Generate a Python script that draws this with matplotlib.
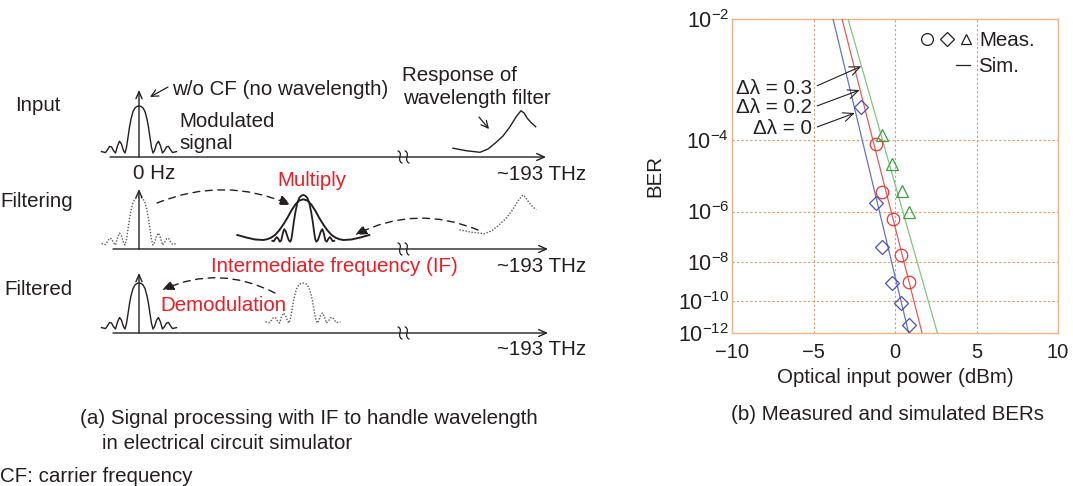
import numpy as np
import matplotlib
matplotlib.use("Agg")
import matplotlib.pyplot as plt
from matplotlib.ticker import NullLocator

plt.rcParams['font.family'] = ['Liberation Sans', 'DejaVu Sans']
plt.rcParams['mathtext.fontset'] = 'custom'
plt.rcParams['mathtext.rm'] = 'Liberation Sans'
plt.rcParams['mathtext.it'] = 'Liberation Sans:italic'
plt.rcParams['axes.unicode_minus'] = True

# ---------------- (b) data: measured and simulated BERs ----------------
meas_d0_x = [-2.11, -1.15, -0.82, -0.20, 0.39, 0.84]
meas_d0_ber = [4.9e-4, 2.0e-6, 4.5e-8, 1.0e-9, 7.9e-11, 3.2e-12]
meas_d2_x = [-1.15, -0.80, -0.12, 0.39, 0.86]
meas_d2_ber = [8.3e-5, 4.2e-6, 5.6e-7, 2.1e-8, 1.1e-9]
meas_d3_x = [-0.78, -0.16, 0.45, 0.86]
meas_d3_ber = [1.3e-4, 2.6e-5, 4.5e-6, 9.3e-7]
sim_ber = [1e-2, 1e-12]
sim_d0_x = [-3.80, 0.84]
sim_d2_x = [-3.25, 1.66]
sim_d3_x = [-2.88, 2.60]
x_ticks = [-10, -5, 0, 5, 10]
y_ticks = [1e-2, 1e-4, 1e-6, 1e-8, 1e-10, 1e-12]
y_tick_labels = [r'$10^{-2}$', r'$10^{-4}$', r'$10^{-6}$', r'$10^{-8}$',
                 r'$10^{-10}$', r'$10^{-12}$']
dl_labels = ['Δλ = 0.3', 'Δλ = 0.2', 'Δλ = 0']
dl_tips_x = [-2.07, -2.17, -2.47]
dl_tips_ber = [2.4e-3, 1.0e-3, 3.8e-4]

# ---------------- (a) schematic shapes (px) ----------------
pulse_dx = [0, 2, 4, 6, 8, 9.5, 11, 12.5, 14, 15.5, 17.5, 19.5, 21.5, 23.5,
            25.5, 27.5, 29.5, 31.5, 33.5, 35.5, 37.5]
pulse_h = [1, .99, .96, .88, .72, .55, .33, .12, 0, .05, .19, .25, .15, 0,
           .05, .13, .14, .07, .01, .02, .03]
prod_dx = [0, 2, 4, 6, 8, 9.5, 11, 12, 13, 14.5, 16, 17.5, 19, 20.5, 22, 23.5,
           25, 26.5, 28, 29.5, 31]
prod_h = [1, .985, .94, .83, .62, .42, .18, .05, 0, .03, .12, .22, .27, .18,
          .03, 0, .06, .1, .06, .01, .02]
gauss_dx = [0, 4, 8, 12, 16, 20, 24, 28, 32, 36, 40, 48, 57, 66]
gauss_h = [1, .97, .87, .72, .54, .38, .24, .13, .06, .02, 0, .012, .061, .123]
filt_dx = [-68, -55, -41, -33, -26, -18, -11, -5, 0, 3, 6.3, 10, 14.7]
filt_dy = [37.5, 40, 41.6, 38.3, 32.6, 25.3, 16, 6.3, 0, 2.3, 7.6, 11.8, 16]
brk_dx = [-1.8, -0.8, 0.4, 0.2, -0.4, -0.2, 0.9, 1.9]
brk_dy = [-6, -5.5, -3.5, -1, 1, 3.5, 5.5, 6]

BLACK = '#231f20'
RED = '#ed1c24'
GRAY = '#5a5a5a'
FS = 14.8

fig = plt.figure(figsize=(10.73, 4.86), dpi=100)

# ---------- left schematic, drawn in pixel coordinates ----------
ax0 = fig.add_axes([0, 0, 1, 1])
ax0.set_xlim(0, 1073)
ax0.set_ylim(486, 0)
ax0.axis('off')


def mirror(dx, h):
    dx = np.asarray(dx, float)
    h = np.asarray(h, float)
    return np.concatenate([-dx[::-1], dx[1:]]), np.concatenate([h[::-1], h[1:]])


def draw_pulse(dx, h, xc, ybase, amp, **kw):
    mx, mh = mirror(dx, h)
    ax0.plot(xc + mx, ybase - amp * mh, solid_joinstyle='round', **kw)


def T(x, y, s, color=BLACK, **kw):
    ax0.text(x, y, s, fontsize=FS, color=color, va='baseline', ha='left', **kw)


def axis_arrow(x0, x1, y):
    ax0.annotate('', xy=(x1, y), xytext=(x0, y),
                 arrowprops=dict(arrowstyle='->,head_length=0.55,head_width=0.25',
                                 lw=1.0, color=BLACK, shrinkA=0, shrinkB=0))
    for bx in (400, 407):
        ax0.plot(bx + np.asarray(brk_dx), y + np.asarray(brk_dy), color=BLACK, lw=0.9)


def vert_arrow(x, y0, y1):
    ax0.annotate('', xy=(x, y1), xytext=(x, y0),
                 arrowprops=dict(arrowstyle='->,head_length=0.5,head_width=0.22',
                                 lw=1.0, color=BLACK, shrinkA=0, shrinkB=0))


def small_arrow(p0, p1):
    ax0.annotate('', xy=p1, xytext=p0,
                 arrowprops=dict(arrowstyle='->,head_length=0.5,head_width=0.25',
                                 lw=0.9, color=BLACK, shrinkA=0, shrinkB=0))


def dashed_arc(p0, p1, rad):
    ax0.annotate('', xy=p1, xytext=p0,
                 arrowprops=dict(arrowstyle='-|>,head_length=0.7,head_width=0.3',
                                 lw=1.0, color=BLACK, linestyle=(0, (5, 4)),
                                 connectionstyle='arc3,rad=%g' % rad,
                                 shrinkA=0, shrinkB=0))


# Row 1: Input
axis_arrow(110, 546, 157)
vert_arrow(139, 157, 90)
draw_pulse(pulse_dx, pulse_h, 139, 153, 47, color=BLACK, lw=1.0)
ax0.plot(521 + np.asarray(filt_dx), 110.7 + np.asarray(filt_dy), color=BLACK, lw=1.0)
T(15, 111, 'Input')
T(172, 95, 'w/o CF (no wavelength)')
small_arrow((168, 87), (150, 97))
T(179, 127, 'Modulated')
T(179, 149, 'signal')
T(133, 179, '0 Hz')
T(402, 81, 'Response of')
T(403, 104, 'wavelength filter')
small_arrow((479, 117), (489, 129))
T(497, 180, '~193 THz')

# Row 2: Filtering
axis_arrow(113, 548, 249)
vert_arrow(139, 249, 189)
draw_pulse(pulse_dx, pulse_h, 139, 245, 48, color=GRAY, lw=1.0, linestyle=(0, (1, 1.2)))
ax0.plot(522.7 + 0.93 * np.asarray(filt_dx), 195 + 0.93 * np.asarray(filt_dy),
         color=GRAY, lw=1.0, linestyle=(0, (1, 1.2)))
draw_pulse(gauss_dx, gauss_h, 303.3, 240, 40.7, color=BLACK, lw=1.4)
draw_pulse(prod_dx, prod_h, 303.3, 241.7, 46.7, color=BLACK, lw=1.3)
dashed_arc((157, 203), (291, 205), -0.21)
dashed_arc((478, 230), (355, 235), 0.23)
T(0, 207, 'Filtering')
T(277, 186, 'Multiply', color=RED)
T(211, 272, 'Intermediate frequency (IF)', color=RED)
T(497, 272, '~193 THz')

# Row 3: Filtered
axis_arrow(113, 548, 333)
vert_arrow(139, 333, 273)
draw_pulse(pulse_dx, pulse_h, 139, 329, 46, color=BLACK, lw=1.0)
draw_pulse(pulse_dx, pulse_h, 303, 323, 40, color=GRAY, lw=1.0, linestyle=(0, (1, 1.2)))
dashed_arc((275, 293), (162, 290), 0.24)
T(4, 295, 'Filtered')
T(160, 311, 'Demodulation', color=RED)
T(497, 355, '~193 THz')

# Captions
T(80, 424, '(a) Signal processing with IF to handle wavelength')
T(102, 449, 'in electrical circuit simulator')
T(0, 482, 'CF: carrier frequency')
T(731, 420, '(b) Measured and simulated BERs')

# ---------- right plot ----------
ax = fig.add_axes([732 / 1073, 1 - 333 / 486, 326 / 1073, 314 / 486])


def fwd(y):
    with np.errstate(all='ignore'):
        return -np.log10(-np.log10(np.asarray(y, float)))


def inv(v):
    with np.errstate(all='ignore'):
        return 10 ** (-(10 ** (-np.asarray(v, float))))


ax.set_yscale('function', functions=(fwd, inv))
ax.set_xlim(-10, 10)
ax.set_ylim(1e-12, 1e-2)
ax.set_xticks(x_ticks)
ax.set_yticks(y_ticks, labels=y_tick_labels)
ax.yaxis.set_minor_locator(NullLocator())
ax.xaxis.set_minor_locator(NullLocator())
ax.tick_params(length=0, colors=BLACK)
ax.tick_params(axis='x', pad=7, labelsize=14.5)
ax.tick_params(axis='y', pad=2, labelsize=15.5)
ax.grid(True, color='#dc9a6a', linestyle=(0, (2, 2)), lw=0.8)
for sp in ax.spines.values():
    sp.set_color('#ebb58c')
    sp.set_linewidth(1.0)

BLUE_L, RED_L, GREEN_L = '#6a72c4', '#e85a5a', '#80c680'
BLUE_M, RED_M, GREEN_M = '#4b52ae', '#e83838', '#3e9e44'

ax.plot(sim_d0_x, sim_ber, color=BLUE_L, lw=0.9, zorder=3)
ax.plot(sim_d2_x, sim_ber, color=RED_L, lw=0.9, zorder=3)
ax.plot(sim_d3_x, sim_ber, color=GREEN_L, lw=0.9, zorder=3)
ax.plot(meas_d0_x, meas_d0_ber, 'D', ms=7, mfc='none', mec=BLUE_M, mew=0.9, zorder=4)
ax.plot(meas_d2_x, meas_d2_ber, 'o', ms=9, mfc='none', mec=RED_M, mew=0.9, zorder=4)
ax.plot(meas_d3_x, meas_d3_ber, '^', ms=8, mfc='none', mec=GREEN_M, mew=0.9, zorder=4)

ax.set_xlabel('Optical input power (dBm)', fontsize=FS, color=BLACK, va='baseline')
ax.xaxis.set_label_coords(0.5, (333 - 383) / 314)
ax.set_ylabel('BER', fontsize=FS, color=BLACK, va='center')
ax.yaxis.set_label_coords((655 - 732) / 326, 0.5)

text_y = [0.780, 0.717, 0.650]
for lab, tx, tb, ty in zip(dl_labels, dl_tips_x, dl_tips_ber, text_y):
    ax.annotate(lab, xy=(tx, tb), xytext=(0.245, ty), textcoords='axes fraction',
                ha='right', va='center', fontsize=FS, color=BLACK,
                arrowprops=dict(arrowstyle='->,head_length=0.5,head_width=0.22',
                                lw=0.8, color=BLACK, relpos=(1, 0.5),
                                shrinkA=2, shrinkB=0))

# manual legend
leg_kw = dict(transform=ax.transAxes, clip_on=False, mfc='none', mec=BLACK, mew=0.9)
ax.plot([0.599], [0.936], 'o', ms=8.5, **leg_kw)
ax.plot([0.659], [0.936], 'D', ms=7, **leg_kw)
ax.plot([0.718], [0.936], '^', ms=7.5, **leg_kw)
ax.text(0.759, 0.930, 'Meas.', transform=ax.transAxes, fontsize=FS, color=BLACK, va='center')
ax.plot([0.687, 0.730], [0.853, 0.853], color=BLACK, lw=0.9, transform=ax.transAxes)
ax.text(0.754, 0.850, 'Sim.', transform=ax.transAxes, fontsize=FS, color=BLACK, va='center')

fig.savefig('out.png', dpi=100)
